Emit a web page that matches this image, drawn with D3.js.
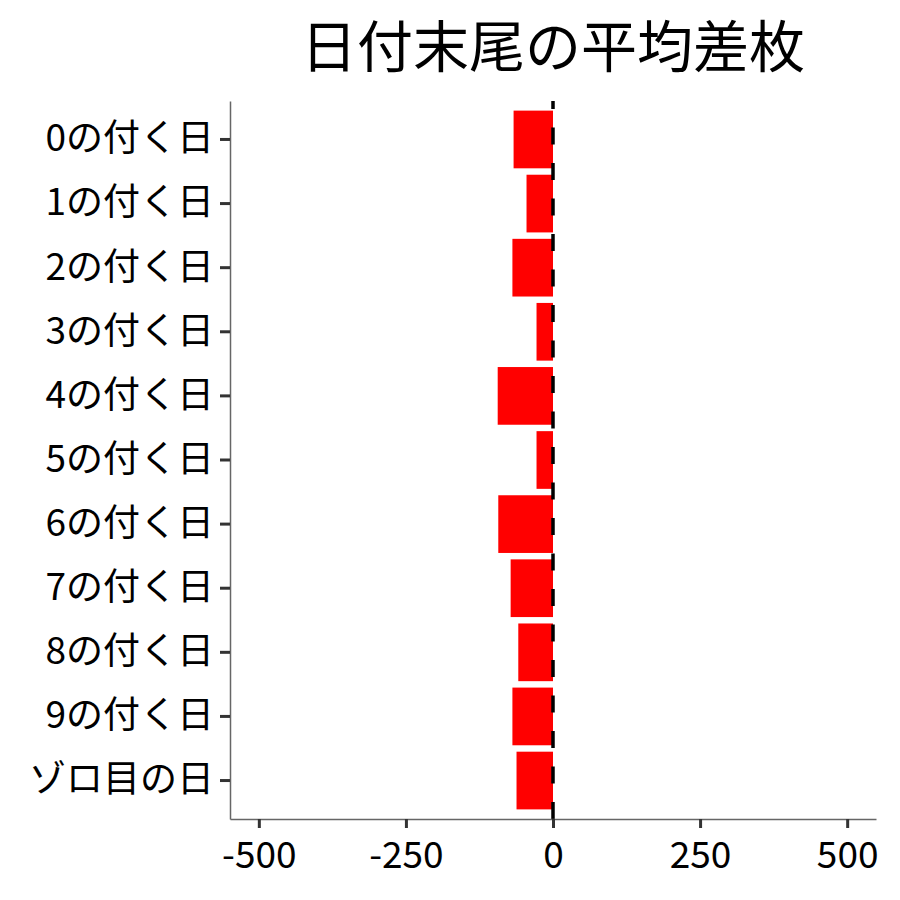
<!DOCTYPE html>
<html>
<head>
<meta charset="utf-8">
<script src="https://cdn.jsdelivr.net/npm/d3@7"></script>
<style>
  body { margin: 0; background: #fff; }
  svg text { font-family: "Noto Sans CJK JP", "Noto Sans", sans-serif; }
</style>
</head>
<body>
<svg id="chart" width="900" height="900"></svg>
<script>
// data
var categories = ["0の付く日", "1の付く日", "2の付く日", "3の付く日", "4の付く日",
                  "5の付く日", "6の付く日", "7の付く日", "8の付く日", "9の付く日", "ゾロ目の日"];
var values = [-67, -45, -69, -28, -94, -28, -93, -72, -59, -69, -62];
var xTicks = [-500, -250, 0, 250, 500];
var title = "日付末尾の平均差枚";

var svg = d3.select("#chart");

// panel edges
var panelLeft = 230, panelRight = 876, panelTop = 101, panelBottom = 819;

var x = d3.scaleLinear()
    .domain([-549, 549])
    .range([panelLeft, panelRight]);

var y = d3.scaleBand()
    .domain(categories)
    .range([panelTop, panelBottom])
    .paddingInner(0.1)
    .paddingOuter(0.15);

// bars
svg.append("g")
    .selectAll("rect")
    .data(values)
    .join("rect")
    .attr("x", d => x(Math.min(0, d)))
    .attr("y", (d, i) => y(categories[i]))
    .attr("width", d => Math.abs(x(d) - x(0)))
    .attr("height", y.bandwidth())
    .attr("fill", "#ff0000");

// dashed reference line at 0
svg.append("line")
    .attr("x1", x(0))
    .attr("x2", x(0))
    .attr("y1", panelBottom)
    .attr("y2", panelTop)
    .attr("stroke", "#000")
    .attr("stroke-width", 3.5)
    .attr("stroke-dasharray", "17,18.5");

// axes
var xAxis = svg.append("g")
    .attr("transform", "translate(0," + panelBottom + ")")
    .call(d3.axisBottom(x).tickValues(xTicks).tickFormat(d => String(d))
        .tickSize(9).tickSizeOuter(0).tickPadding(14));

var yAxis = svg.append("g")
    .attr("transform", "translate(" + panelLeft + ",0)")
    .call(d3.axisLeft(y).tickSize(10).tickSizeOuter(0).tickPadding(6));

[xAxis, yAxis].forEach(function(a) {
    a.select(".domain").attr("stroke", "#666").attr("stroke-width", 1.5);
    a.selectAll(".tick line").attr("stroke", "#333").attr("stroke-width", 3);
    a.selectAll(".tick text")
        .attr("fill", "#000")
        .style("font-size", "37px");
});

// title
svg.append("text")
    .attr("x", (panelLeft + panelRight) / 2)
    .attr("y", 67)
    .attr("text-anchor", "middle")
    .style("font-size", "56px")
    .attr("fill", "#000")
    .text(title);
</script>
</body>
</html>
